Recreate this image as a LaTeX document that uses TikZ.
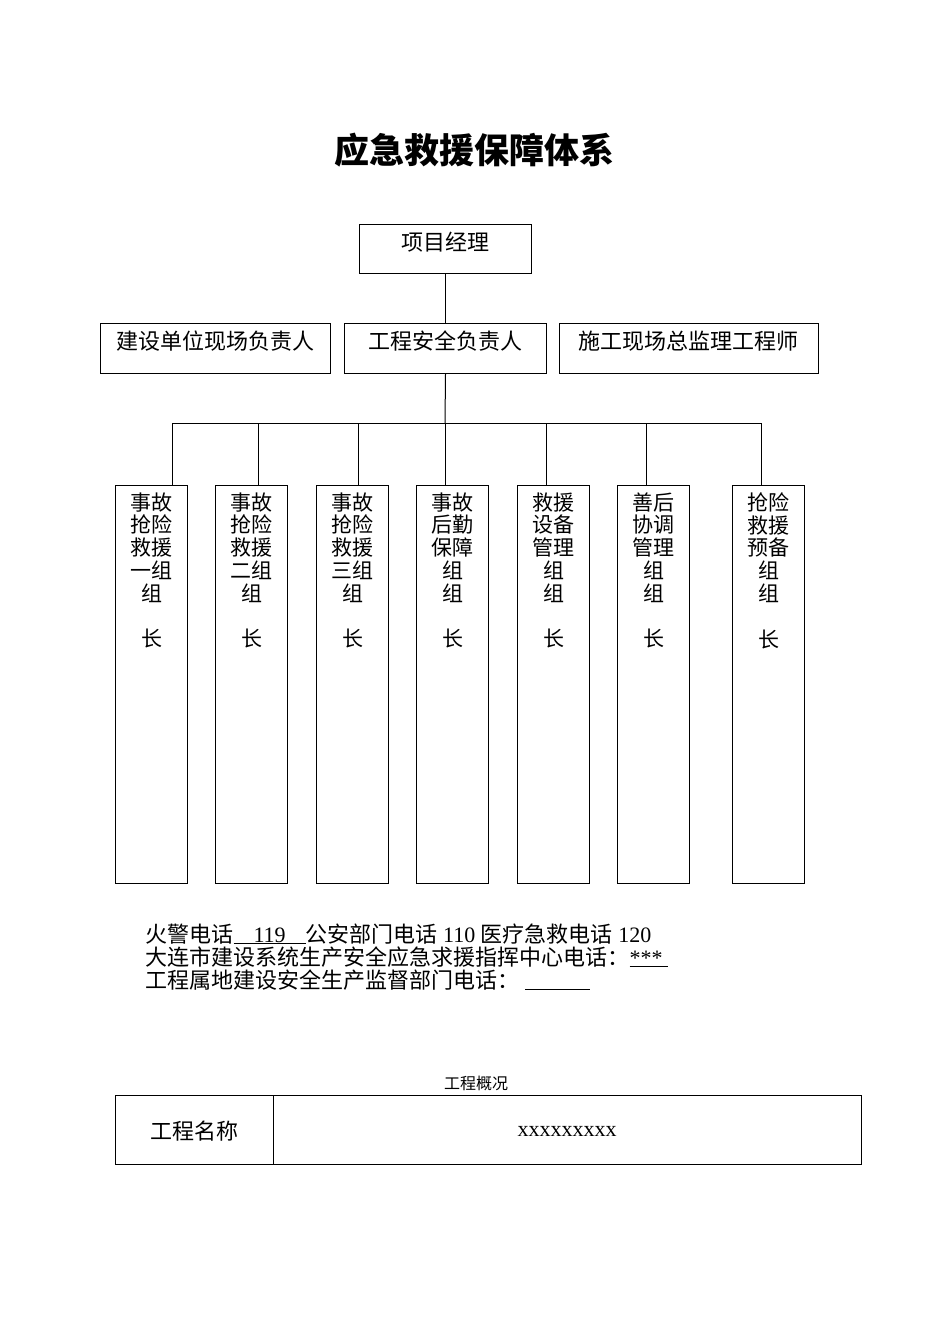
\documentclass[tikz,border=0pt]{standalone}
\usepackage{fontspec}
\setmainfont{Liberation Serif}
\newfontfamily\cjk{Noto Sans CJK SC}
\begin{document}
\begin{tikzpicture}[x=1pt,y=-1pt,line width=1pt,
  box/.style={draw,rectangle,inner sep=0pt,anchor=north west},
  boxtext/.style={font=\cjk\fontsize{22}{24}\selectfont,inner sep=0pt},
  grouptext/.style={font=\cjk\fontsize{21}{22.8}\selectfont,align=center,inner sep=0pt,anchor=north},
  infotext/.style={font=\fontsize{22}{23}\selectfont,inner sep=0pt,anchor=base west}]
\useasboundingbox (0,0) rectangle (950,1344);
% title
\node[font=\cjk\bfseries\fontsize{35}{36}\selectfont,inner sep=0pt] (title) at (474,150) {应急救援保障体系};
% top
\node[box,minimum width=172pt,minimum height=49pt] (pm) at (359,224) {};
\node[boxtext] (pmt) at (445,242) {项目经理};
\node[box,minimum width=230pt,minimum height=50pt] (s1) at (100,323) {};
\node[box,minimum width=202pt,minimum height=50pt] (s2) at (344,323) {};
\node[box,minimum width=259pt,minimum height=50pt] (s3) at (559,323) {};
\node[boxtext] (s1t) at (215,341) {建设单位现场负责人};
\node[boxtext] (s2t) at (445,341) {工程安全负责人};
\node[boxtext] (s3t) at (688.5,341) {施工现场总监理工程师};
\draw (pm.south) -- (s2.north);
% groups
\foreach \n/\x in {1/115,2/215,3/316,4/416,5/517,6/617,7/732}{
  \node[box,minimum width=72pt,minimum height=398pt] (g\n) at (\x,485) {};
}
\node[grouptext] (g1t) at (g1.north) [yshift=-7pt] {事故\\抢险\\救援\\一组\\组\\[22.8pt]长};
\node[grouptext] (g2t) at (g2.north) [yshift=-7pt] {事故\\抢险\\救援\\二组\\组\\[22.8pt]长};
\node[grouptext] (g3t) at (g3.north) [yshift=-7pt] {事故\\抢险\\救援\\三组\\组\\[22.8pt]长};
\node[grouptext] (g4t) at (g4.north) [yshift=-7pt] {事故\\后勤\\保障\\组\\组\\[22.8pt]长};
\node[grouptext] (g5t) at (g5.north) [yshift=-7pt] {救援\\设备\\管理\\组\\组\\[22.8pt]长};
\node[grouptext] (g6t) at (g6.north) [yshift=-7pt] {善后\\协调\\管理\\组\\组\\[22.8pt]长};
\node[grouptext] (g7t) at (g7.north) [yshift=-7pt] {抢险\\救援\\预备\\组\\组\\[22.8pt]长};
\coordinate (bus) at (445,423);
\draw (s2.south) -- (bus);
\coordinate (d1) at (172,423);
\coordinate (d2) at (258,423);
\coordinate (d3) at (358,423);
\coordinate (d4) at (445,423);
\coordinate (d5) at (546,423);
\coordinate (d6) at (646,423);
\coordinate (d7) at (761,423);
\draw (d1) -- (d7);
\foreach \n in {1,...,7}{ \draw (d\n) -- (d\n |- g\n.north); }
% info text
\node[infotext] (i1) at (145,942) {{\cjk 火警电话}\underline{\hspace{20pt}119\hspace{20pt}}{\cjk 公安部门电话} 110 {\cjk 医疗急救电话} 120};
\node[infotext] (i2) at (145,965) {{\cjk 大连市建设系统生产安全应急求援指挥中心电话：}\underline{***\ }};
\node[infotext] (i3) at (145,988) {{\cjk 工程属地建设安全生产监督部门电话：}\ \underline{\hspace{65pt}}};
% table
\node[font=\cjk\fontsize{16}{17}\selectfont,inner sep=0pt] (cap) at (476,1083) {工程概况};
\node[box,minimum width=746pt,minimum height=69pt] (tab) at (115,1095) {};
\coordinate (dv) at (273,1095);
\draw (dv) -- (dv |- tab.south);
\node[boxtext] (nm) at (194,1131) {工程名称};
\node[font=\fontsize{22}{24}\selectfont,inner sep=0pt] (val) at (567,1131) {xxxxxxxxx};
\end{tikzpicture}
\end{document}
